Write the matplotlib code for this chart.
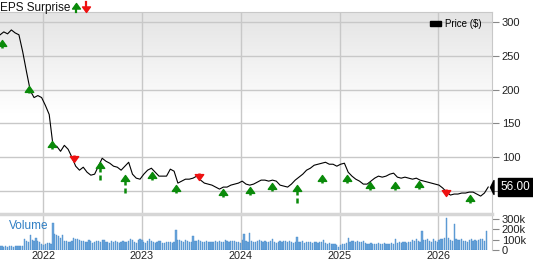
import matplotlib
matplotlib.use("Agg")
import matplotlib.pyplot as plt
import matplotlib.dates as mdates
import matplotlib.transforms as mtransforms
from matplotlib.path import Path
from matplotlib.patches import Patch
import numpy as np
import pandas as pd

plt.rcParams['font.family'] = ['Liberation Sans', 'DejaVu Sans']

# ---- data ----
price_start = "2021-07-25"
price = [
    280.9, 285.3, 282.4, 288.2, 283.8, 281.0, 255.9, 226.5, 198.5, 188.2,
    191.2, 188.2, 176.5, 163.2, 117.6, 116.2, 108.8, 117.6, 111.8, 100.0,
    86.8, 80.9, 85.3, 77.9, 73.5, 75.0, 86.8, 98.5, 94.1, 91.2,
    86.8, 85.3, 80.9, 86.8, 92.6, 75.0, 69.1, 67.6, 75.0, 80.9,
    83.8, 77.9, 72.1, 72.1, 72.1, 82.4, 79.4, 61.8, 64.7, 67.6,
    67.6, 69.1, 72.1, 66.2, 61.8, 60.3, 58.8, 55.9, 52.9, 55.9,
    55.9, 58.8, 60.3, 61.8, 64.7, 60.3, 58.8, 60.3, 63.2, 66.2,
    66.2, 64.7, 66.2, 64.7, 58.8, 57.4, 55.9, 60.3, 66.2, 70.6,
    75.0, 80.9, 83.8, 88.2, 89.7, 91.2, 92.6, 89.7, 89.7, 86.8,
    89.7, 91.2, 77.9, 72.1, 67.6, 64.7, 60.3, 60.3, 64.7, 69.1,
    72.1, 70.6, 72.1, 75.0, 76.5, 70.6, 69.1, 70.6, 69.1, 67.6,
    69.1, 66.2, 64.7, 63.2, 61.8, 60.3, 58.8, 54.4, 48.5, 44.1,
    45.6, 45.6, 47.1, 47.1, 48.5, 48.5, 45.6, 42.6, 47.1, 56.0,
]

# weekly volume, thousands of shares
volume_k = [
    40, 35, 30, 35, 30, 40, 35, 30, 35, 35, 40, 35, 40,
    110, 90, 80, 140, 100, 85, 120, 90, 75,
    60, 50, 55, 70, 65, 60,
    260,
    150, 140, 130, 120, 145,
    90, 85, 80, 80, 85, 120, 105,
    110, 95, 85, 90, 75, 80, 95, 85, 70, 80,
    90, 85, 80, 100, 95, 80, 75, 70, 85, 80, 90, 75, 70, 80, 85, 80, 75, 90, 110, 95,
    80, 70, 100, 105, 95, 80, 70, 85, 110, 90, 75, 70, 80, 85, 90, 70, 65, 75, 80, 75,
    70, 80, 195, 100,
    95, 90, 80, 95, 90, 80, 75, 130, 90, 85, 100, 90, 80, 75, 85, 80,
    75, 80, 80, 90, 80, 85, 75, 80, 95, 90, 80, 90, 85, 90, 80, 75, 70, 95,
    155, 90, 80, 165,
    90, 80, 75, 85, 95, 90, 80, 85,
    80, 75, 85, 110, 80, 70, 75, 85, 80, 90,
    85, 75, 90, 80, 70, 75, 125, 80, 75, 85,
    70, 80, 75, 80, 70, 75, 80, 70, 75, 80, 95, 70, 60, 65, 55,
    60, 55, 45, 30, 45, 55, 60, 70, 120, 75,
    90, 85, 80, 90, 75, 80, 85, 65, 60, 55, 65, 60, 55, 60, 65, 60, 55, 65, 60, 55,
    60, 65, 60, 110, 70, 75, 70, 80, 75, 70,
    80, 75, 100, 85, 110, 90, 80, 185, 100, 95,
    110, 85, 75, 110, 90, 80, 95, 110, 105, 120,
    310, 120, 100, 90, 250, 110, 95,
    100, 110, 85, 90, 80, 95, 110, 85, 100, 90, 95, 110, 105, 90, 180,
]

# EPS surprise arrows: date, price at the tip, price at the tail
beat_dates = ["2021-08-01", "2021-11-09", "2022-02-04", "2022-07-30", "2022-10-31",
              "2023-02-07", "2023-05-06", "2023-10-27", "2024-02-05", "2024-04-26",
              "2024-07-28", "2024-10-29", "2025-01-30", "2025-04-25", "2025-07-26",
              "2025-10-23", "2026-04-27"]
beat_tip = [273.5, 205.9, 123.5, 92.6, 73.5, 78.0, 58.8, 53.0, 56.0, 62.0,
            59.0, 73.5, 73.5, 63.0, 63.0, 64.7, 44.0]
beat_tail = [261.8, 195.6, 111.8, 66.2, 47.1, 66.0, 47.0, 41.0, 44.0, 50.0,
             32.4, 62.0, 62.0, 51.5, 51.5, 53.0, 32.4]
miss_dates = ["2022-04-25", "2023-07-31", "2026-01-31"]
miss_tip = [92.6, 66.0, 42.6]
miss_tail = [103.0, 76.5, 53.0]

years = [2022, 2023, 2024, 2025, 2026]
price_ticks = [50, 100, 150, 200, 250, 300]
vol_ticks = [0, 100, 200, 300]
vol_labels = ["0", "100k", "200k", "300k"]

GREEN = "#0a8a0a"
RED = "#ee1111"
GRID = "#c8c8c8"

price_dates = pd.date_range(price_start, periods=len(price), freq="14D")
vol_dates = pd.date_range(price_start, periods=len(volume_k), freq="7D")

up_head = Path([(0, 0), (-0.5, -0.7), (0.5, -0.7), (0, 0)],
               [Path.MOVETO, Path.LINETO, Path.LINETO, Path.CLOSEPOLY])
down_head = Path([(0, 0), (-0.5, 0.7), (0.5, 0.7), (0, 0)],
                 [Path.MOVETO, Path.LINETO, Path.LINETO, Path.CLOSEPOLY])
tag_point = Path([(0, 0), (0.5, -1), (0.5, 1), (0, 0)],
                 [Path.MOVETO, Path.LINETO, Path.LINETO, Path.CLOSEPOLY])


def gradient_bg(ax, top="#e4e4e4", stop=0.5):
    n = 200
    t = np.linspace(0, 1, n)
    c0 = np.array(matplotlib.colors.to_rgb(top))
    w = np.clip(t / stop, 0, 1)[:, None]
    img = c0 * (1 - w) + np.ones(3) * w
    ax.imshow(img[:, None, :], extent=[0, 1, 0, 1], transform=ax.transAxes,
              aspect="auto", zorder=0, origin="upper")


W, H = 533, 262
fig = plt.figure(figsize=(W / 100, H / 100), dpi=100)
fig.patch.set_facecolor("white")

xlim = (pd.Timestamp("2021-07-25"), pd.Timestamp("2026-07-19"))

# ---- price panel ----
ax = fig.add_axes([0, 1 - 213 / H, 492 / W, 201 / H])
gradient_bg(ax)
ax.set_xlim(xlim)
ax.set_ylim(17.6, 314.7)
ax.plot(price_dates, price, color="black", lw=0.8, zorder=4)

for d, tip, tail in zip(beat_dates, beat_tip, beat_tail):
    d = pd.Timestamp(d)
    ax.plot([d, d], [tail, tip - 4], color=GREEN, lw=1.8, ls=(0, (2, 1.2)), zorder=5)
    ax.plot(d, tip, marker=up_head, ms=8.5, color=GREEN, zorder=6)
for d, tip, tail in zip(miss_dates, miss_tip, miss_tail):
    d = pd.Timestamp(d)
    ax.plot([d, d], [tip + 4, tail], color=RED, lw=1.8, ls=(0, (2, 1.2)), zorder=5)
    ax.plot(d, tip, marker=down_head, ms=8.5, color=RED, zorder=6)

# the price tag hides the lowest tick label, as in the reference
ax.set_yticks(price_ticks)
ax.set_yticklabels([""] + [str(v) for v in price_ticks[1:]])
ax.yaxis.tick_right()
ax.tick_params(axis="y", length=5, width=0.8, color="#888888", pad=2,
               labelsize=8, labelcolor="#222222")
ax.set_xticks([pd.Timestamp(f"{y}-01-01") for y in years])
ax.tick_params(axis="x", length=0, labelbottom=False)
ax.grid(True, color=GRID, lw=1)
ax.set_axisbelow(True)
for s in ["left", "bottom"]:
    ax.spines[s].set_visible(False)
for s in ["top", "right"]:
    ax.spines[s].set_color(GRID)

leg = ax.legend(handles=[Patch(facecolor="black", edgecolor="black", label="Price ($)")],
                loc="upper right", bbox_to_anchor=(0.99, 0.995), frameon=False,
                fontsize=7, handlelength=1.1, handleheight=0.45, handletextpad=0.4,
                borderaxespad=0.2)

blend = mtransforms.blended_transform_factory(ax.transAxes, ax.transData)
ax.plot(0.996, price[-1], marker=tag_point, ms=10, color="black",
        transform=blend, clip_on=False, zorder=10)
ax.text(1.017, price[-1], f"{price[-1]:.2f}", transform=blend,
        ha="left", va="center", color="white", fontsize=8.5,
        bbox=dict(boxstyle="square,pad=0.22", fc="black", ec="black"),
        clip_on=False, zorder=10)

# ---- volume panel ----
av = fig.add_axes([0, 1 - 250 / H, 492 / W, 36 / H])
av.set_xlim(xlim)
av.set_ylim(0, 346)
av.bar(vol_dates, volume_k, width=4.6, color="#6aa5da", edgecolor="#4a8ccc",
       lw=0.3, zorder=3)
av.set_yticks(vol_ticks)
av.set_yticklabels(vol_labels)
av.yaxis.tick_right()
av.tick_params(axis="y", length=5, width=0.8, color="#888888", pad=2,
               labelsize=8, labelcolor="#222222")
av.set_xticks([pd.Timestamp(f"{y}-01-01") for y in years])
av.xaxis.set_major_formatter(mdates.DateFormatter("%Y"))
av.tick_params(axis="x", length=0, pad=0.5, labelsize=7.8, labelcolor="#222222")
av.grid(True, axis="x", color=GRID, lw=1)
av.set_axisbelow(True)
av.spines["left"].set_visible(False)
av.spines["bottom"].set_visible(False)
av.spines["right"].set_color(GRID)
av.spines["top"].set_color("#d6d6d6")
av.spines["top"].set_linewidth(2.5)
av.text(0.018, 0.68, "Volume", transform=av.transAxes, color="#2f7fc4",
        fontsize=8.5, va="center", ha="left")

# ---- header: EPS Surprise with arrows ----
fig.text(0.0, 1 - 8 / H, "EPS Surprise", fontsize=8.5, va="center", ha="left",
         color="#111111")
ov = fig.add_axes([0, 0, 1, 1], facecolor="none")
ov.set_xlim(0, W)
ov.set_ylim(H, 0)
ov.axis("off")
ov.plot([76, 76], [12, 6], color=GREEN, lw=1.6)
ov.plot(76, 2.5, marker=up_head, ms=8, color=GREEN)
ov.plot([86, 86], [2, 8], color=RED, lw=1.6)
ov.plot(86, 11.5, marker=down_head, ms=8, color=RED)

fig.savefig("out.png", dpi=100)
